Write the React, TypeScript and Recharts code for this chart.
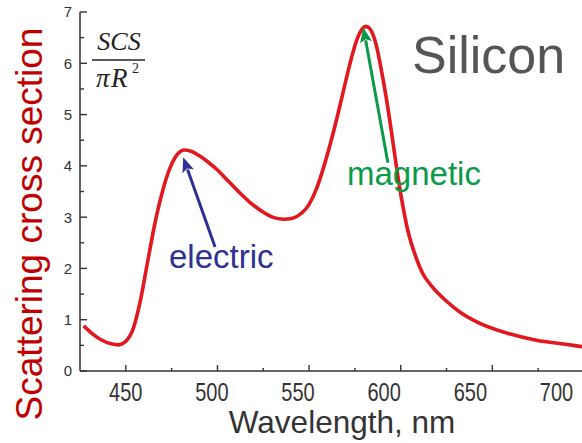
import React from 'react';
import { LineChart, Line, XAxis, YAxis, ReferenceLine } from 'recharts';

const wavelength = [427, 432, 437, 442, 446, 450, 454, 458, 462, 466, 470, 474, 478, 482, 486, 490, 495, 500, 506, 512, 518, 524, 530, 536, 541, 546, 550, 554, 558, 563, 568, 572, 576, 579, 581, 583, 585, 587, 589, 592, 595, 598, 601, 604, 608, 612, 617, 625, 633, 642, 656, 674, 690, 700];
const scs = [0.88, 0.72, 0.6, 0.53, 0.51, 0.58, 0.82, 1.38, 2.15, 2.9, 3.5, 3.95, 4.22, 4.31, 4.28, 4.2, 4.07, 3.92, 3.7, 3.48, 3.28, 3.12, 3.0, 2.96, 2.98, 3.08, 3.25, 3.55, 3.98, 4.62, 5.35, 5.95, 6.45, 6.67, 6.72, 6.68, 6.55, 6.3, 5.95, 5.35, 4.65, 3.9, 3.25, 2.72, 2.25, 1.9, 1.65, 1.36, 1.13, 0.95, 0.76, 0.6, 0.52, 0.47];

const xDomain = [425, 700];
const yDomain = [0, 7];
const xBottomTicks = [450, 475, 500, 525, 550, 575, 600, 625, 650, 675, 700];
const xTopTicks = [450, 500, 550, 600, 650, 700];
const yTicks = [0, 0.5, 1, 1.5, 2, 2.5, 3, 3.5, 4, 4.5, 5, 5.5, 6, 6.5, 7];

const electricArrow = [{ x: 498.7, y: 2.42 }, { x: 481.3, y: 4.17 }];
const magneticArrow = [{ x: 593.0, y: 4.06 }, { x: 579.6, y: 6.7 }];

const data = wavelength.map((w, i) => ({ w, s: scs[i] }));

const AXIS = '#333333';
const FONT = '"Liberation Sans", Arial, sans-serif';
const SERIF = '"Liberation Serif", "Times New Roman", serif';

// the reference's tick labels are spread a little tighter than its tick marks
const LABEL_ANCHOR_X = 125;
const LABEL_SPREAD = 0.94;

const BottomTick = (props: any) => {
  const { x, y, payload } = props;
  const v = payload.value;
  const major = v % 50 === 0;
  const lx = LABEL_ANCHOR_X + (x - LABEL_ANCHOR_X) * LABEL_SPREAD;
  return (
    <g>
      <line x1={x} x2={x} y1={y} y2={y - (major ? 6 : 3)} stroke={AXIS} strokeWidth={1.4} />
      {major && (
        <text
          transform={`translate(${lx},${y + 30}) scale(0.8,1)`}
          textAnchor="middle"
          fontSize={25}
          fontFamily={FONT}
          fill="#333"
        >
          {v}
        </text>
      )}
    </g>
  );
};

const TopTick = (props: any) => {
  const { x, y } = props;
  return <line x1={x} x2={x} y1={y} y2={y + 5} stroke={AXIS} strokeWidth={1.4} />;
};

const LeftTick = (props: any) => {
  const { x, y, payload } = props;
  const v = payload.value;
  const major = Number.isInteger(v);
  return (
    <g>
      <line x1={x} x2={x + (major ? 7 : 4)} y1={y} y2={y} stroke={AXIS} strokeWidth={1.4} />
      {major && (
        <text x={x - 8} y={y} dy="0.36em" textAnchor="end" fontSize={15} fontFamily={FONT} fill="#333">
          {v}
        </text>
      )}
    </g>
  );
};

const makeArrow = (color: string) => (props: any) => {
  const { x1, y1, x2, y2 } = props;
  const dx = x2 - x1;
  const dy = y2 - y1;
  const len = Math.sqrt(dx * dx + dy * dy);
  const ux = dx / len;
  const uy = dy / len;
  const headLen = 15;
  const headHalf = 6;
  const bx = x2 - ux * headLen;
  const by = y2 - uy * headLen;
  const px = -uy;
  const py = ux;
  return (
    <g>
      <line x1={x1} y1={y1} x2={bx + ux * 2} y2={by + uy * 2} stroke={color} strokeWidth={3} />
      <polygon
        points={`${x2},${y2} ${bx + px * headHalf},${by + py * headHalf} ${bx + ux * 3},${by + uy * 3} ${bx - px * headHalf},${by - py * headHalf}`}
        fill={color}
      />
    </g>
  );
};

export default function App() {
  return (
    <div style={{ position: 'absolute', left: 0, top: 0, width: 582, height: 443, overflow: 'hidden', background: '#fff' }}>
      <LineChart width={600} height={443} data={data} margin={{ top: 12, right: 16, bottom: 0, left: 0 }}>
        <XAxis
          dataKey="w"
          type="number"
          domain={xDomain}
          allowDataOverflow
          ticks={xBottomTicks}
          interval={0}
          tick={BottomTick}
          tickLine={false}
          tickSize={0}
          tickMargin={0}
          height={72}
          axisLine={{ stroke: AXIS, strokeWidth: 1.5 }}
        />
        <XAxis
          xAxisId="top"
          orientation="top"
          dataKey="w"
          type="number"
          domain={xDomain}
          allowDataOverflow
          ticks={xTopTicks}
          interval={0}
          tick={TopTick}
          tickLine={false}
          tickSize={0}
          tickMargin={0}
          height={0}
          axisLine={{ stroke: AXIS, strokeWidth: 1.5 }}
        />
        <YAxis
          type="number"
          domain={yDomain}
          ticks={yTicks}
          interval={0}
          tick={LeftTick}
          tickLine={false}
          tickSize={0}
          tickMargin={0}
          width={80}
          axisLine={{ stroke: AXIS, strokeWidth: 1.5 }}
        />
        <Line
          type="monotone"
          dataKey="s"
          stroke="#e3171e"
          strokeWidth={3.6}
          dot={false}
          isAnimationActive={false}
        />
        <ReferenceLine segment={electricArrow} ifOverflow="visible" shape={makeArrow('#2e3192')} />
        <ReferenceLine segment={magneticArrow} ifOverflow="visible" shape={makeArrow('#0a9a48')} />
      </LineChart>
      <svg
        width={582}
        height={443}
        style={{ position: 'absolute', left: 0, top: 0, pointerEvents: 'none' }}
      >
        <text
          transform="translate(42,224) rotate(-90)"
          textAnchor="middle"
          fontSize={37}
          fontFamily={FONT}
          fill="#c00000"
        >
          Scattering cross section
        </text>
        <text x={342} y={433} textAnchor="middle" fontSize={31.5} fontFamily={FONT} fill="#333">
          Wavelength, nm
        </text>
        <text x={412} y={73} fontSize={52} fontFamily={FONT} fill="#555">
          Silicon
        </text>
        <text x={169} y={268} fontSize={33} fontFamily={FONT} fill="#2e3192">
          electric
        </text>
        <text x={347} y={185} fontSize={33} fontFamily={FONT} fill="#0a9a48">
          magnetic
        </text>
        <text x={119} y={50} textAnchor="middle" fontSize={26} fontStyle="italic" fontFamily={SERIF} fill="#222">
          SCS
        </text>
        <line x1={92} x2={145} y1={60} y2={60} stroke="#222" strokeWidth={1.3} />
        <text x={96} y={87} fontSize={27} fontStyle="italic" fontFamily={SERIF} fill="#222" letterSpacing={1.5}>
          πR
        </text>
        <text x={132} y={73} fontSize={14} fontFamily={SERIF} fill="#222">
          2
        </text>
      </svg>
    </div>
  );
}
